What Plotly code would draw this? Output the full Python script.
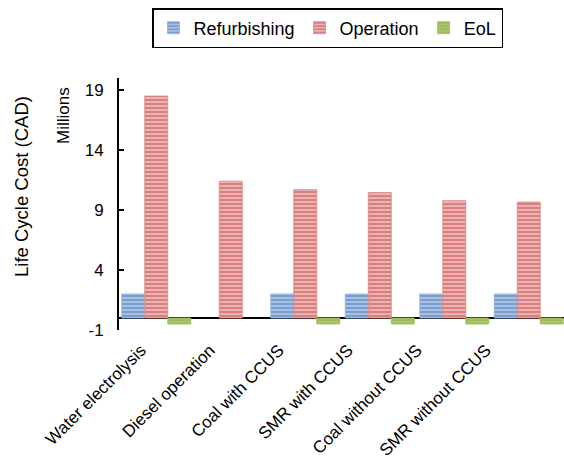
import plotly.graph_objects as go

# Life cycle cost per hydrogen supply pathway (millions of CAD)
categories = ["Water electrolysis", "Diesel operation", "Coal with CCUS",
              "SMR with CCUS", "Coal without CCUS", "SMR without CCUS"]
refurbishing = [2.0, None, 2.0, 2.0, 2.0, 2.0]
operation = [18.5, 11.4, 10.7, 10.45, 9.78, 9.66]
eol = [-0.5, None, -0.5, -0.5, -0.5, -0.5]
y_ticks = [-1, 4, 9, 14, 19]
y_tick_text = ["-1", "4", "9", "14", "19"]

FONT = "Liberation Sans, Arial, sans-serif"

series = [
    ("Refurbishing", refurbishing, "#3D72B8", "#B3C8E6", "#8FAFD9"),
    ("Operation", operation, "#C0423F", "#F0BEBD", "#D98583"),
    ("EoL", eol, "#8FB34C", "#A9C86A", "#9BBB59"),
]

fig = go.Figure()
for name, vals, fg, bg, edge in series:
    fig.add_trace(go.Bar(
        name=name,
        x=list(range(len(categories))),
        y=vals,
        hovertext=categories,
        marker=dict(
            color=bg,
            line=dict(color=edge, width=0.8),
            pattern=dict(shape="-", fgcolor=fg, bgcolor=bg, size=4,
                         solidity=0.6, fillmode="overlay"),
        ),
    ))

fig.update_layout(
    width=564,
    height=461,
    margin=dict(l=119, r=0, t=78, b=131),
    paper_bgcolor="white",
    plot_bgcolor="white",
    barmode="group",
    bargap=0.074,
    bargroupgap=0,
    font=dict(family=FONT, size=17, color="black"),
    legend=dict(
        orientation="h",
        xref="container", yref="container",
        x=152 / 564, y=1 - 8 / 461,
        xanchor="left", yanchor="top",
        bordercolor="black", borderwidth=1.5,
        font=dict(family=FONT, size=18, color="black"),
        itemwidth=30,
        tracegroupgap=0,
    ),
    showlegend=True,
)

# bar axis: category slots, no labels
fig.update_xaxes(
    range=[-0.5, 5.473],
    showline=False,
    showgrid=False,
    ticks="",
    showticklabels=False,
    zeroline=False,
)

# label axis: category names set at a slightly tighter pitch than the bars
fig.update_layout(
    xaxis2=dict(
        overlaying="x",
        side="bottom",
        anchor="y",
        range=[-0.319, 6.13],
        tickmode="array",
        tickvals=list(range(len(categories))),
        ticktext=categories,
        tickangle=-45,
        ticks="",
        showline=False,
        showgrid=False,
        zeroline=False,
        ticklabelstandoff=6,
        tickfont=dict(family=FONT, size=17, color="black"),
    )
)
fig.add_trace(go.Scatter(x=[0, 5], y=[None, None], xaxis="x2", yaxis="y",
                         showlegend=False, hoverinfo="skip"))

fig.update_yaxes(
    range=[-1, 20],
    tickvals=y_ticks,
    ticktext=y_tick_text,
    showgrid=False,
    showline=True,
    linecolor="black",
    linewidth=2,
    ticks="inside",
    ticklen=5,
    tickwidth=1.5,
    tickcolor="black",
    ticklabelstandoff=10,
    zeroline=True,
    zerolinecolor="black",
    zerolinewidth=2,
    tickfont=dict(family=FONT, size=17, color="black"),
)

fig.add_annotation(
    text="Life Cycle Cost (CAD)", textangle=-90,
    xref="paper", yref="paper",
    x=-119 / 445 + 21 / 445, y=(330 - 187) / 252,
    xanchor="center", yanchor="middle", showarrow=False,
    font=dict(family=FONT, size=18.5, color="black"),
)
fig.add_annotation(
    text="Millions", textangle=-90,
    xref="paper", yref="paper",
    x=-119 / 445 + 63 / 445, y=(330 - 116) / 252,
    xanchor="center", yanchor="middle", showarrow=False,
    font=dict(family=FONT, size=17, color="black"),
)

fig.write_html("out.html")
